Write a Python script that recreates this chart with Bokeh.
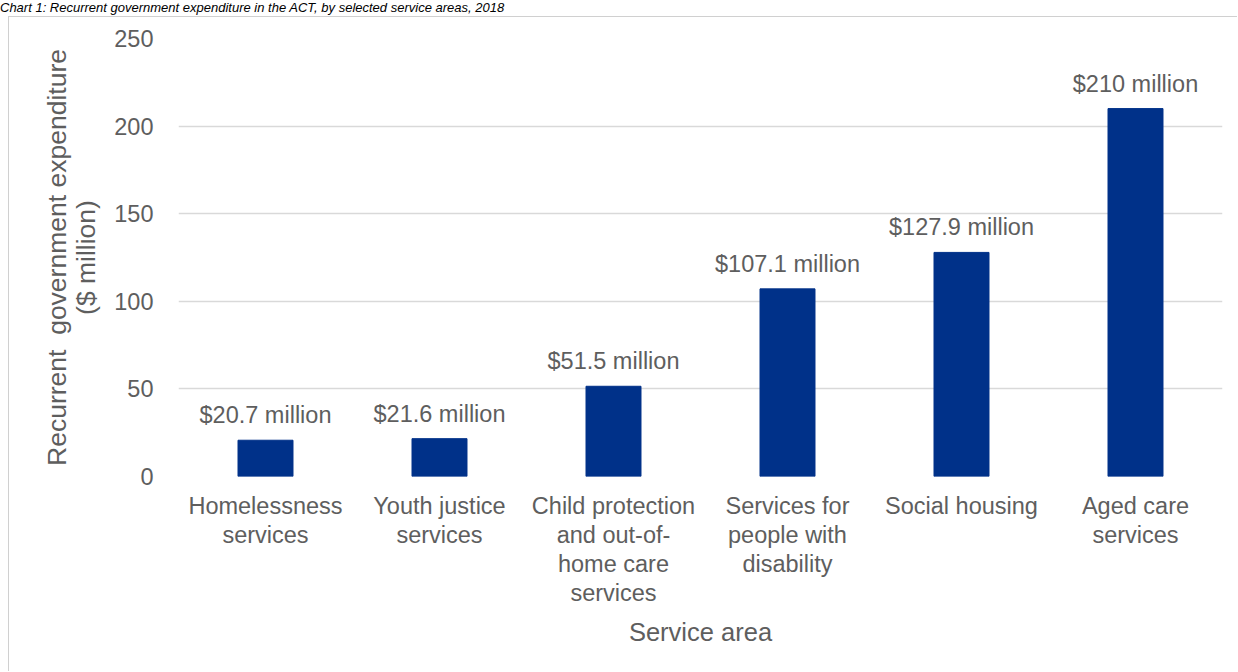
from bokeh.plotting import figure
from bokeh.models import ColumnDataSource, FixedTicker, Range1d, Div
from bokeh.layouts import column
from bokeh.core.properties import value
from bokeh.embed import file_html
from bokeh.resources import INLINE

title = "Chart 1: Recurrent government expenditure in the ACT, by selected service areas, 2018"
categories = ["Homelessness\nservices", "Youth justice\nservices",
              "Child protection\nand out-of-\nhome care\nservices",
              "Services for\npeople with\ndisability", "Social housing",
              "Aged care\nservices"]
values = [20.7, 21.6, 51.5, 107.1, 127.9, 210]
labels = ["$20.7 million", "$21.6 million", "$51.5 million", "$107.1 million",
          "$127.9 million", "$210 million"]
y_ticks = [0, 50, 100, 150, 200, 250]

FONT = "Liberation Sans"
GREY = "#5e5e5e"
src = ColumnDataSource(dict(cat=categories, val=values, lab=labels))

head = Div(text=('<div style="font-style:italic;font-size:13px;line-height:16px;'
                 'font-family:Liberation Sans;color:#000;white-space:nowrap">'
                 + title + '</div>'),
           width=1238, height=16, margin=0, styles={"overflow": "hidden"})

p = figure(x_range=categories, y_range=Range1d(0, 250), width=1229, height=655,
           output_backend="svg", toolbar_location=None, margin=0,
           min_border_left=169, min_border_right=16, min_border_top=21, min_border_bottom=196)
p.styles = {"margin-left": "8px", "border-left": "1px solid #d0d0d0",
            "border-top": "1px solid #d0d0d0"}
p.outline_line_color = None

p.vbar(x="cat", top="val", width=0.316, source=src, color="#003189")
p.text(x="cat", y="val", text="lab", source=src, y_offset=-12,
       text_align="center", text_baseline="bottom", text_font=value(FONT),
       text_font_size="23.5px", text_color=GREY)

p.xgrid.grid_line_color = None
p.ygrid.grid_line_color = "#d9d9d9"
p.ygrid.grid_line_width = 1.5
p.yaxis.ticker = FixedTicker(ticks=y_ticks)

for ax in (p.xaxis, p.yaxis):
    ax.axis_line_color = None
    ax.major_tick_line_color = None
    ax.minor_tick_line_color = None
    ax.major_label_text_font = FONT
    ax.major_label_text_font_size = "23.5px"
    ax.major_label_text_color = GREY
    ax.axis_label_text_font = FONT
    ax.axis_label_text_color = GREY
    ax.axis_label_text_font_style = "normal"

p.yaxis.major_label_standoff = 19
p.yaxis.axis_label = "Recurrent\u00a0 government expenditure\n($ million)"
p.yaxis.axis_label_text_font_size = "26.5px"
p.yaxis.axis_label_standoff = 10
p.yaxis.axis_label_text_line_height = 0.98
p.xaxis.major_label_standoff = 10
p.xaxis.major_label_text_line_height = 1.12
p.xaxis.axis_label = "Service area"
p.xaxis.axis_label_text_font_size = "25.5px"
p.xaxis.axis_label_standoff = 9

open("out.html", "w").write(file_html(column(head, p), INLINE))
